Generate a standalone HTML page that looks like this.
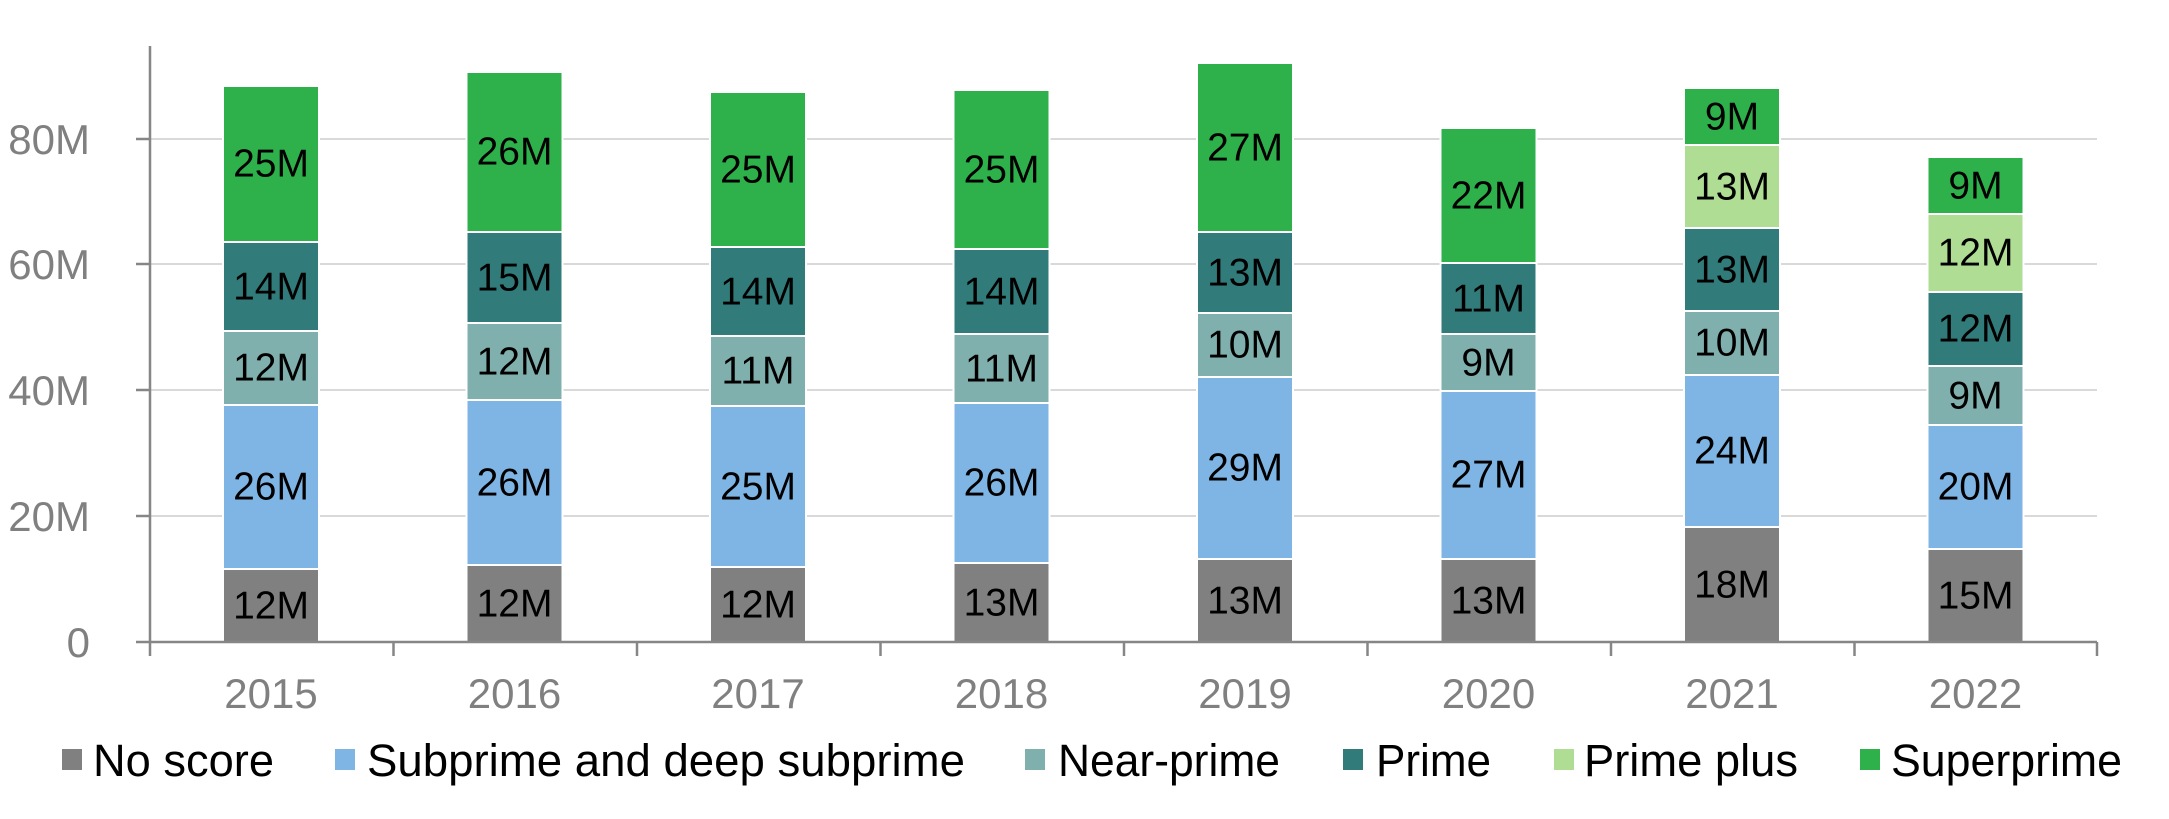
<!DOCTYPE html>
<html><head><meta charset="utf-8"><style>
html,body{margin:0;padding:0;background:#fff;}
svg{display:block;font-family:"Liberation Sans",Arial,sans-serif;}
.d{font-size:39px;fill:#000;text-anchor:middle;dominant-baseline:central;}
.ax{font-size:42px;fill:#808080;}
.lg{font-size:45px;fill:#000;}
</style></head><body>
<svg width="2169" height="819" viewBox="0 0 2169 819">
<g stroke="#d9d9d9" stroke-width="2">
<line x1="150" y1="516" x2="2097" y2="516"/>
<line x1="150" y1="390" x2="2097" y2="390"/>
<line x1="150" y1="264" x2="2097" y2="264"/>
<line x1="150" y1="139" x2="2097" y2="139"/>
</g>
<g stroke="#fff" stroke-width="2">
<rect x="223" y="569" width="96" height="73" fill="#808080"/>
<rect x="223" y="405" width="96" height="164" fill="#7fb5e4"/>
<rect x="223" y="331" width="96" height="74" fill="#80b0ad"/>
<rect x="223" y="242" width="96" height="89" fill="#317b7a"/>
<rect x="223" y="86" width="96" height="156" fill="#2eb14b"/>
<rect x="466.5" y="565" width="96" height="77" fill="#808080"/>
<rect x="466.5" y="400" width="96" height="165" fill="#7fb5e4"/>
<rect x="466.5" y="323" width="96" height="77" fill="#80b0ad"/>
<rect x="466.5" y="232" width="96" height="91" fill="#317b7a"/>
<rect x="466.5" y="72" width="96" height="160" fill="#2eb14b"/>
<rect x="710" y="567" width="96" height="75" fill="#808080"/>
<rect x="710" y="406" width="96" height="161" fill="#7fb5e4"/>
<rect x="710" y="336" width="96" height="70" fill="#80b0ad"/>
<rect x="710" y="247" width="96" height="89" fill="#317b7a"/>
<rect x="710" y="92" width="96" height="155" fill="#2eb14b"/>
<rect x="953.5" y="563" width="96" height="79" fill="#808080"/>
<rect x="953.5" y="403" width="96" height="160" fill="#7fb5e4"/>
<rect x="953.5" y="334" width="96" height="69" fill="#80b0ad"/>
<rect x="953.5" y="249" width="96" height="85" fill="#317b7a"/>
<rect x="953.5" y="90" width="96" height="159" fill="#2eb14b"/>
<rect x="1197" y="559" width="96" height="83" fill="#808080"/>
<rect x="1197" y="377" width="96" height="182" fill="#7fb5e4"/>
<rect x="1197" y="313" width="96" height="64" fill="#80b0ad"/>
<rect x="1197" y="232" width="96" height="81" fill="#317b7a"/>
<rect x="1197" y="63" width="96" height="169" fill="#2eb14b"/>
<rect x="1440.5" y="559" width="96" height="83" fill="#808080"/>
<rect x="1440.5" y="391" width="96" height="168" fill="#7fb5e4"/>
<rect x="1440.5" y="334" width="96" height="57" fill="#80b0ad"/>
<rect x="1440.5" y="263" width="96" height="71" fill="#317b7a"/>
<rect x="1440.5" y="128" width="96" height="135" fill="#2eb14b"/>
<rect x="1684" y="527" width="96" height="115" fill="#808080"/>
<rect x="1684" y="375" width="96" height="152" fill="#7fb5e4"/>
<rect x="1684" y="311" width="96" height="64" fill="#80b0ad"/>
<rect x="1684" y="228" width="96" height="83" fill="#317b7a"/>
<rect x="1684" y="145" width="96" height="83" fill="#aedd93"/>
<rect x="1684" y="88" width="96" height="57" fill="#2eb14b"/>
<rect x="1927.5" y="549" width="96" height="93" fill="#808080"/>
<rect x="1927.5" y="425" width="96" height="124" fill="#7fb5e4"/>
<rect x="1927.5" y="366" width="96" height="59" fill="#80b0ad"/>
<rect x="1927.5" y="292" width="96" height="74" fill="#317b7a"/>
<rect x="1927.5" y="214" width="96" height="78" fill="#aedd93"/>
<rect x="1927.5" y="157" width="96" height="57" fill="#2eb14b"/>
</g>
<g class="d">
<text x="271" y="606">12M</text><text x="271" y="487">26M</text><text x="271" y="368">12M</text><text x="271" y="287">14M</text><text x="271" y="164">25M</text>
<text x="514.5" y="604">12M</text><text x="514.5" y="483">26M</text><text x="514.5" y="362">12M</text><text x="514.5" y="278">15M</text><text x="514.5" y="152">26M</text>
<text x="758" y="605">12M</text><text x="758" y="487">25M</text><text x="758" y="371">11M</text><text x="758" y="292">14M</text><text x="758" y="170">25M</text>
<text x="1001.5" y="603">13M</text><text x="1001.5" y="483">26M</text><text x="1001.5" y="369">11M</text><text x="1001.5" y="292">14M</text><text x="1001.5" y="170">25M</text>
<text x="1245" y="601">13M</text><text x="1245" y="468">29M</text><text x="1245" y="345">10M</text><text x="1245" y="273">13M</text><text x="1245" y="148">27M</text>
<text x="1488.5" y="601">13M</text><text x="1488.5" y="475">27M</text><text x="1488.5" y="363">9M</text><text x="1488.5" y="299">11M</text><text x="1488.5" y="196">22M</text>
<text x="1732" y="585">18M</text><text x="1732" y="451">24M</text><text x="1732" y="343">10M</text><text x="1732" y="270">13M</text><text x="1732" y="187">13M</text><text x="1732" y="117">9M</text>
<text x="1975.5" y="596">15M</text><text x="1975.5" y="487">20M</text><text x="1975.5" y="396">9M</text><text x="1975.5" y="329">12M</text><text x="1975.5" y="253">12M</text><text x="1975.5" y="186">9M</text>
</g>
<g stroke="#868686" stroke-width="2.5">
<line x1="150" y1="46" x2="150" y2="656"/>
<line x1="136" y1="642" x2="2097" y2="642"/>
<line x1="136" y1="516" x2="150" y2="516"/>
<line x1="136" y1="390" x2="150" y2="390"/>
<line x1="136" y1="264" x2="150" y2="264"/>
<line x1="136" y1="139" x2="150" y2="139"/>
<line x1="393.5" y1="642" x2="393.5" y2="656"/>
<line x1="637" y1="642" x2="637" y2="656"/>
<line x1="880.5" y1="642" x2="880.5" y2="656"/>
<line x1="1124" y1="642" x2="1124" y2="656"/>
<line x1="1367.5" y1="642" x2="1367.5" y2="656"/>
<line x1="1611" y1="642" x2="1611" y2="656"/>
<line x1="1854.5" y1="642" x2="1854.5" y2="656"/>
<line x1="2097" y1="642" x2="2097" y2="656"/>
</g>
<g class="ax" text-anchor="end">
<text x="90" y="657">0</text>
<text x="90" y="531">20M</text>
<text x="90" y="405">40M</text>
<text x="90" y="279">60M</text>
<text x="90" y="154">80M</text>
</g>
<g class="ax" text-anchor="middle">
<text x="271" y="708">2015</text><text x="514.5" y="708">2016</text><text x="758" y="708">2017</text><text x="1001.5" y="708">2018</text>
<text x="1245" y="708">2019</text><text x="1488.5" y="708">2020</text><text x="1732" y="708">2021</text><text x="1975.5" y="708">2022</text>
</g>
<rect x="62" y="749" width="20" height="21" fill="#808080"/>
<rect x="335" y="749" width="20" height="21" fill="#7fb5e4"/>
<rect x="1025" y="749" width="20" height="21" fill="#80b0ad"/>
<rect x="1343" y="749" width="20" height="21" fill="#317b7a"/>
<rect x="1554" y="749" width="20" height="21" fill="#aedd93"/>
<rect x="1860" y="749" width="20" height="21" fill="#2eb14b"/>
<g class="lg">
<text x="93" y="776" textLength="181" lengthAdjust="spacingAndGlyphs">No score</text>
<text x="367" y="776" textLength="598" lengthAdjust="spacingAndGlyphs">Subprime and deep subprime</text>
<text x="1058" y="776" textLength="222" lengthAdjust="spacingAndGlyphs">Near-prime</text>
<text x="1376" y="776" textLength="115" lengthAdjust="spacingAndGlyphs">Prime</text>
<text x="1584" y="776" textLength="214" lengthAdjust="spacingAndGlyphs">Prime plus</text>
<text x="1891" y="776" textLength="231" lengthAdjust="spacingAndGlyphs">Superprime</text>
</g>
</svg>
</body></html>
